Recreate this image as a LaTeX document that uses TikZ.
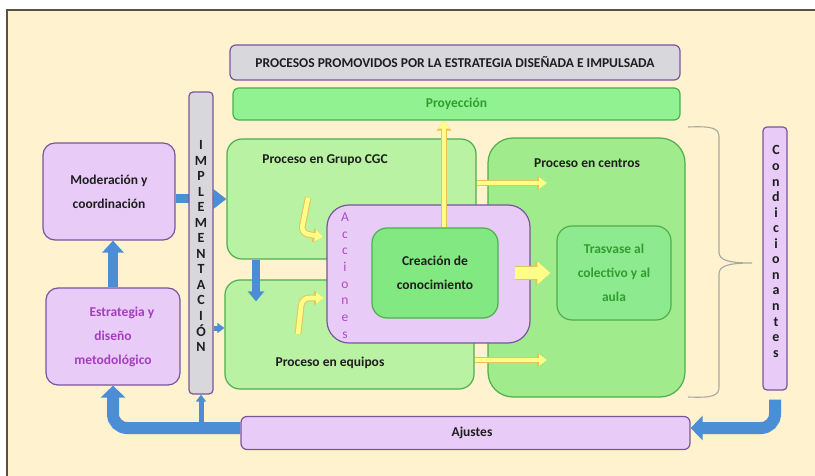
\documentclass[tikz,border=0pt]{standalone}
\usepackage{fontspec}
\setmainfont{Carlito}
\usetikzlibrary{arrows.meta,calc}
\definecolor{cream}{HTML}{FFF2CE}
\definecolor{framec}{HTML}{5A5048}
\definecolor{pfill}{HTML}{E8CCF7}
\definecolor{pdraw}{HTML}{7A559E}
\definecolor{gray1}{HTML}{D8D8DC}
\definecolor{gA}{HTML}{B8F2A2}
\definecolor{gC}{HTML}{A0EC8C}
\definecolor{gD}{HTML}{82E882}
\definecolor{gE}{HTML}{8EEA8E}
\definecolor{gP}{HTML}{90F290}
\definecolor{gdraw}{HTML}{4EAE4E}
\definecolor{gtxt}{HTML}{2F9E2F}
\definecolor{txt}{HTML}{1E1E1E}
\definecolor{mag}{HTML}{A53CC0}
\definecolor{magb}{HTML}{B048C8}
\definecolor{blu}{HTML}{4C8ED6}
\definecolor{yel}{HTML}{FFFF88}
\definecolor{ygold}{HTML}{E6C45A}
\definecolor{brc}{HTML}{A8A8A0}
\begin{document}
\begin{tikzpicture}[x=1pt,y=-1pt,
  pbox/.style={draw=pdraw, fill=pfill, line width=1.2pt, rounded corners=12pt, inner sep=0pt, align=center, text=txt, font=\fontsize{13.5}{24}\selectfont\bfseries},
  gbox/.style={draw=gdraw, line width=1.2pt, rounded corners=15pt, inner sep=0pt, align=center, text=txt, font=\fontsize{13.5}{24}\selectfont\bfseries},
  lbl/.style={text=txt, font=\fontsize{13.5}{16}\selectfont\bfseries, inner sep=0pt},
  vtext/.style={align=center, inner sep=0pt, font=\fontsize{14}{15.55}\selectfont\bfseries, text=txt},
  bthick/.style={draw=blu, line width=12pt, -{Triangle[width=24pt,length=12pt]}},
  bmid/.style={draw=blu, line width=10pt, -{Triangle[width=21pt,length=12pt]}},
  bnine/.style={draw=blu, line width=9pt, -{Triangle[width=19pt,length=13pt]}},
  bsmall/.style={draw=blu, line width=8pt, -{Triangle[width=16pt,length=10pt]}},
  bthin/.style={draw=blu, line width=5pt, -{Triangle[width=10pt,length=7pt]}},
  yarrow/.style={preaction={draw=ygold, line width=6.6pt, -{Triangle[width=14pt,length=10pt]}}, draw=yel, line width=4.6pt, -{Triangle[width=11pt,length=8pt]}},
  yfat/.style={preaction={draw=ygold, line width=13.5pt, -{Triangle[width=25pt,length=15pt]}}, draw=yel, line width=11.5pt, -{Triangle[width=22pt,length=13pt]}},
  brc/.style={draw=brc, line width=1.1pt}
]
\useasboundingbox (0,0) rectangle (815,476);
\fill[cream] (7,10) rectangle (815,476);
\draw[framec, line width=1.6pt] (7,476) -- (7,10) -- (815,10);

% top boxes
\node[pbox, fill=gray1, rounded corners=6pt, minimum width=450pt, minimum height=35pt] (title) at (455,62.5) {PROCESOS PROMOVIDOS POR LA ESTRATEGIA DISEÑADA E IMPULSADA};
\node[gbox, fill=gP, text=gtxt, rounded corners=6pt, minimum width=447pt, minimum height=32pt] (proy) at (456.5,104) {Proyección};

% left boxes
\node[pbox, minimum width=132pt, minimum height=97pt] (moder) at (109,191.5) {Moderación y\\coordinación};
\node[pbox, text=mag, minimum width=134pt, minimum height=97pt] (estr) at (113,336.5) {\hspace*{18pt}Estrategia y\\diseño\hspace*{10pt}\\metodológico};

% process boxes
\node[gbox, fill=gC, rounded corners=25pt, minimum width=197pt, minimum height=259pt] (centros) at (586.5,267.5) {};
\node[lbl] (centrost) at (587,163) {Proceso en centros};
\node[gbox, fill=gA, minimum width=249pt, minimum height=120pt] (cgc) at (351.5,199) {};
\node[lbl] (cgct) at (325,160) {Proceso en Grupo CGC};
\node[gbox, fill=gA, minimum width=249pt, minimum height=109pt] (equ) at (349.5,334.5) {};
\node[lbl] (equt) at (330,363) {Proceso en equipos};

% yellow arrows to centros
\coordinate (ya) at (547,183);
\coordinate (yb2) at (547,360);
\draw[yarrow] (cgc.east |- ya) -- (ya);
\draw[yarrow] (equ.east |- yb2) -- (yb2);

% curved yellow arrows
\coordinate (c1a) at (308,198);
\coordinate (c1b) at (301,233);
\coordinate (c1c) at (323,237);
\coordinate (c2a) at (298,334);
\coordinate (c2b) at (302,298);
\coordinate (c2c) at (324,298);
\draw[yarrow, rounded corners=7pt] (c1a) -- (c1b) -- (c1c);
\draw[yarrow, rounded corners=7pt] (c2a) -- (c2b) -- (c2c);

% acciones
\node[pbox, rounded corners=22pt, minimum width=203pt, minimum height=138pt] (acc) at (428.5,274) {};
\node[vtext, text=magb, font=\fontsize{13.5}{16.7}\selectfont] (acct) at (345,275.5) {A\\c\\c\\i\\o\\n\\e\\s};
\node[gbox, fill=gD, minimum width=126pt, minimum height=90pt] (crea) at (435,273) {Creación de\\conocimiento};
\node[gbox, fill=gE, text=gtxt, minimum width=114pt, minimum height=94pt] (tras) at (614,273) {Trasvase al\\colectivo y al\\aula};

% yellow arrows from creacion
\coordinate (xy) at (444,0);
\draw[yarrow] (crea.north -| xy) -- (proy.south -| xy);
\draw[yfat] ($(crea.east)+(16,0)$) -- ($(tras.west)+(-6,0)$);

% blue arrows
\draw[bnine] (moder.east |- cgc.west) -- (cgc.west);
\draw[bmid] (estr.north) -- (estr.north |- moder.south);
\coordinate (xd) at (256,0);
\draw[bsmall] (cgc.south -| xd) -- ($(equ.north -| xd)+(0,22)$);

% implementacion bar
\node[pbox, fill=gray1, rounded corners=4pt, minimum width=24pt, minimum height=302pt] (impl) at (201,243) {};
\node[vtext] (implt) at (201,246) {I\\M\\P\\L\\E\\M\\E\\N\\T\\A\\C\\I\\Ó\\N};
\coordinate (ye) at (0,328);
\draw[bthin] (impl.east |- ye) -- (equ.west |- ye);

% condicionantes
\node[pbox, rounded corners=4pt, minimum width=24pt, minimum height=263pt] (cond) at (775,258.5) {};
\node[vtext] (condt) at (776,251.5) {C\\o\\n\\d\\i\\c\\i\\o\\n\\a\\n\\t\\e\\s};
\draw[brc] (688,127) .. controls (712,126) and (719,128) .. (719,137) -- (719,252)
  .. controls (719,260) and (728,263) .. (752,263)
  .. controls (728,263) and (719,266) .. (719,274) -- (719,387)
  .. controls (719,396) and (712,398) .. (688,397);

% ajustes
\node[pbox, rounded corners=6pt, minimum width=449pt, minimum height=33pt] (ajus) at (465.5,433) {\hspace*{13pt}Ajustes};
\coordinate (yb) at (0,428);
\draw[bthick, rounded corners=14pt] (ajus.west |- yb) -| (estr.south);
\draw[bthin] (impl.south |- yb) -- (impl.south);
\draw[bthick, rounded corners=14pt] ($(cond.south)+(0,9)$) |- (ajus.east |- yb);
\end{tikzpicture}
\end{document}
